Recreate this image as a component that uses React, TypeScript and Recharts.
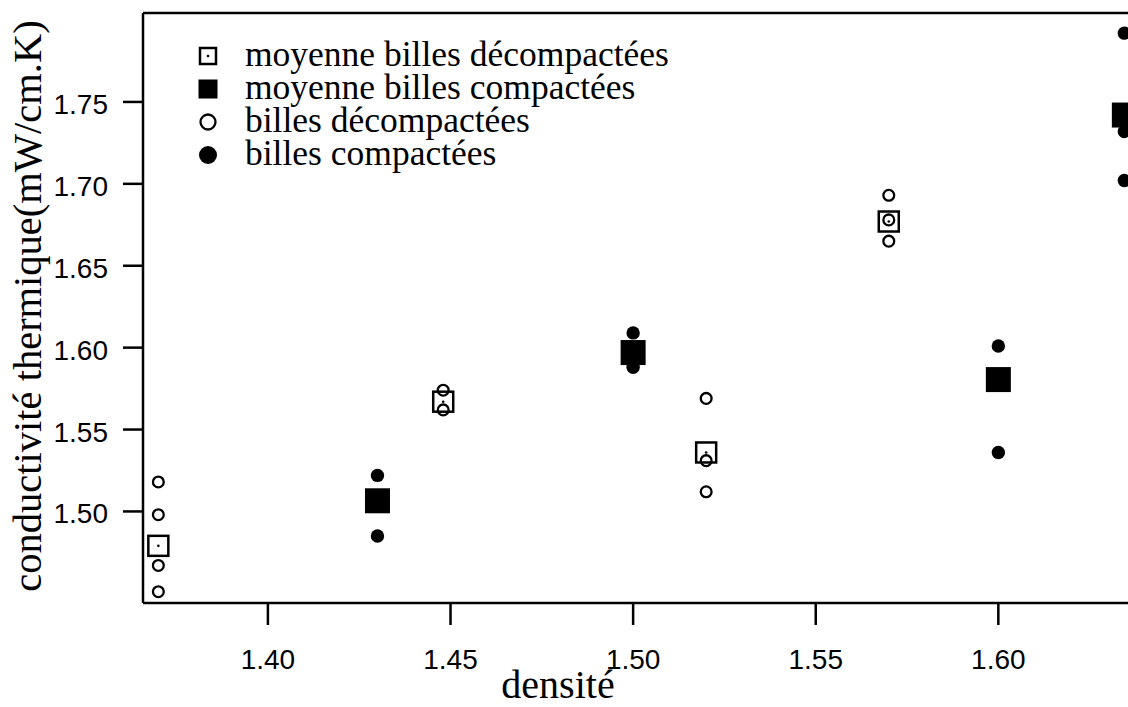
import { ScatterChart, Scatter, XAxis, YAxis, ReferenceLine } from "recharts";

// densities and thermal conductivities (mW/cm.K)
const looseDensity = [1.37, 1.448, 1.52, 1.57];
const looseMeans = [1.479, 1.567, 1.536, 1.677];
const looseBeads = [
    [1.518, 1.498, 1.467, 1.451],
    [1.574, 1.562],
    [1.569, 1.531, 1.512],
    [1.693, 1.678, 1.665],
];

const packedDensity = [1.43, 1.5, 1.6, 1.6345];
const packedMeans = [1.5065, 1.597, 1.5805, 1.742];
const packedBeads = [
    [1.522, 1.485],
    [1.609, 1.588],
    [1.601, 1.536],
    [1.792, 1.732, 1.702],
];

const xTicks = [1.4, 1.45, 1.5, 1.55, 1.6];
const yTicks = [1.5, 1.55, 1.6, 1.65, 1.7, 1.75];

const X_MIN = 1.3658;
const X_MAX = 1.6355;
const Y_MIN = 1.4441;
const Y_MAX = 1.8043;

const legendItems = [
    "moyenne billes décompactées",
    "moyenne billes compactées",
    "billes décompactées",
    "billes compactées",
];

const toPoints = (xs: number[], ys: number[]) => xs.map((x, i) => ({ x, y: ys[i] }));
const toBeadPoints = (xs: number[], groups: number[][]) =>
    groups.flatMap((g, i) => g.map((y) => ({ x: xs[i], y })));

const looseMeanPts = toPoints(looseDensity, looseMeans);
const packedMeanPts = toPoints(packedDensity, packedMeans);
const looseBeadPts = toBeadPoints(looseDensity, looseBeads);
const packedBeadPts = toBeadPoints(packedDensity, packedBeads);

const SERIF = "'Liberation Serif', 'Times New Roman', serif";
const SANS = "'Liberation Sans', Arial, sans-serif";

// marker shapes (props named so recharts' own size/r props don't clash)
const OpenSquare = ({ cx, cy, side = 20 }: any) => (
    <g>
        <rect x={cx - side / 2} y={cy - side / 2} width={side} height={side} fill="none" stroke="#000" strokeWidth={2.5} />
        <circle cx={cx} cy={cy} r={1.3} fill="#000" />
    </g>
);

const FilledSquare = ({ cx, cy, side = 25 }: any) => (
    <rect x={cx - side / 2} y={cy - side / 2} width={side} height={side} fill="#000" />
);

const OpenCircle = ({ cx, cy, rad = 5.4 }: any) => (
    <circle cx={cx} cy={cy} r={rad} fill="none" stroke="#000" strokeWidth={2.3} />
);

const FilledCircle = ({ cx, cy, rad = 6.7 }: any) => <circle cx={cx} cy={cy} r={rad} fill="#000" />;

const XTick = ({ x, y, payload }: any) => (
    <text x={x} y={y + 42} textAnchor="middle" fontFamily={SANS} fontSize={28} fill="#000">
        {payload.value.toFixed(2)}
    </text>
);

const YTick = ({ y, payload }: any) => (
    <text x={108} y={y + 12} textAnchor="end" fontFamily={SANS} fontSize={28} fill="#000">
        {payload.value.toFixed(2)}
    </text>
);

const Legend = () => {
    const rows = [56, 89, 122, 155];
    const markers = [
        <OpenSquare cx={208} cy={rows[0]} side={16} />,
        <FilledSquare cx={208} cy={rows[1]} side={19} />,
        <OpenCircle cx={208} cy={rows[2]} rad={7.5} />,
        <FilledCircle cx={208} cy={rows[3]} rad={9} />,
    ];
    return (
        <svg width={720} height={200} style={{ position: "absolute", left: 0, top: 0 }}>
            {legendItems.map((label, i) => (
                <g key={label}>
                    {markers[i]}
                    <text x={245} y={rows[i] + 10} fontFamily={SERIF} fontSize={35.5} fill="#000">
                        {label}
                    </text>
                </g>
            ))}
        </svg>
    );
};

export default function App() {
    const axisStroke = { stroke: "#000", strokeWidth: 2.5 };
    return (
        <div style={{ position: "absolute", left: 0, top: 0, width: 1128, height: 707, background: "#fff" }}>
            <ScatterChart width={1128} height={707} margin={{ top: 13, right: 0, bottom: 0, left: 0 }}>
                <XAxis
                    type="number"
                    dataKey="x"
                    domain={[X_MIN, X_MAX]}
                    ticks={xTicks}
                    allowDataOverflow
                    height={104}
                    tickSize={22}
                    axisLine={axisStroke}
                    tickLine={axisStroke}
                    tick={<XTick />}
                    label={{
                        content: () => (
                            <text x={558} y={698} textAnchor="middle" fontFamily={SERIF} fontSize={40} fill="#000">
                                densité
                            </text>
                        ),
                    }}
                />
                <YAxis
                    type="number"
                    dataKey="y"
                    domain={[Y_MIN, Y_MAX]}
                    ticks={yTicks}
                    allowDataOverflow
                    width={143}
                    tickSize={20}
                    axisLine={axisStroke}
                    tickLine={axisStroke}
                    tick={<YTick />}
                    label={{
                        content: () => (
                            <text
                                x={41}
                                y={306}
                                transform="rotate(-90 41 306)"
                                textAnchor="middle"
                                fontFamily={SERIF}
                                fontSize={40.5}
                                fill="#000"
                            >
                                conductivité thermique(mW/cm.K)
                            </text>
                        ),
                    }}
                />
                <ReferenceLine y={Y_MAX} stroke="#000" strokeWidth={2.5} />
                <Scatter data={looseMeanPts} shape={<OpenSquare />} isAnimationActive={false} />
                <Scatter data={packedMeanPts} shape={<FilledSquare />} isAnimationActive={false} />
                <Scatter data={looseBeadPts} shape={<OpenCircle />} isAnimationActive={false} />
                <Scatter data={packedBeadPts} shape={<FilledCircle />} isAnimationActive={false} />
            </ScatterChart>
            <Legend />
        </div>
    );
}
